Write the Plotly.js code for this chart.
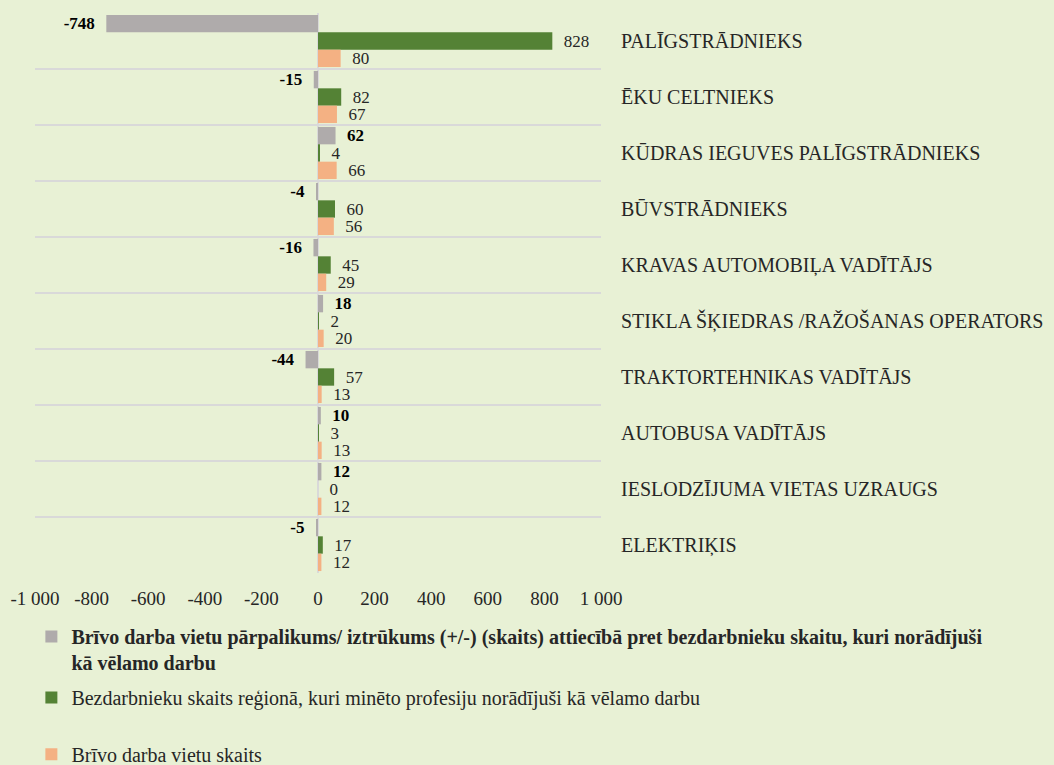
<!DOCTYPE html>
<html>
<head>
<meta charset="utf-8">
<script src="https://cdn.plot.ly/plotly-3.0.1.min.js"></script>
<style>html,body{margin:0;padding:0;background:#e8f1d5;}</style>
</head>
<body>
<div id="chart" style="width:1054px;height:765px;"></div>
<script>
const categories = [
  'PALĪGSTRĀDNIEKS',
  'ĒKU CELTNIEKS',
  'KŪDRAS IEGUVES PALĪGSTRĀDNIEKS',
  'BŪVSTRĀDNIEKS',
  'KRAVAS AUTOMOBIĻA VADĪTĀJS',
  'STIKLA ŠĶIEDRAS /RAŽOŠANAS OPERATORS',
  'TRAKTORTEHNIKAS VADĪTĀJS',
  'AUTOBUSA VADĪTĀJS',
  'IESLODZĪJUMA VIETAS UZRAUGS',
  'ELEKTRIĶIS'
];
const surplus = [-748, -15, 62, -4, -16, 18, -44, 10, 12, -5];
const unemployed = [828, 82, 4, 60, 45, 2, 57, 3, 0, 17];
const vacancies = [80, 67, 66, 56, 29, 20, 13, 13, 12, 12];

const seriesNames = [
  '<b>Brīvo darba vietu pārpalikums/ iztrūkums (+/-) (skaits) attiecībā pret bezdarbnieku skaitu, kuri norādījuši<br>kā vēlamo darbu</b>',
  'Bezdarbnieku skaits reģionā, kuri minēto profesiju norādījuši kā vēlamo darbu',
  'Brīvo darba vietu skaits'
];
const xTickVals = [-1000, -800, -600, -400, -200, 0, 200, 400, 600, 800, 1000];
const xTickText = ['-1 000', '-800', '-600', '-400', '-200', '0', '200', '400', '600', '800', '1 000'];

const pad = '\u00a0\u00a0';
function labels(arr) {
  return arr.map(v => v < 0 ? (String(v) + pad) : (pad + String(v)));
}
const FONT = 'Liberation Serif, Times New Roman, serif';

function barTrace(vals, name, color, bold, legendId) {
  return {
    type: 'bar',
    orientation: 'h',
    y: categories,
    x: vals,
    name: name,
    legend: legendId,
    marker: {color: color},
    text: labels(vals),
    textposition: 'outside',
    cliponaxis: false,
    constraintext: 'none',
    textfont: {family: FONT, size: 17, color: bold ? '#000000' : '#262626', weight: bold ? 'bold' : 'normal'},
    hoverinfo: 'x+y'
  };
}

const data = [
  barTrace(surplus, seriesNames[0], '#afabab', true, 'legend'),
  barTrace(unemployed, seriesNames[1], '#548235', false, 'legend2'),
  barTrace(vacancies, seriesNames[2], '#f4b183', false, 'legend3')
];

const legendBase = {
  xref: 'paper', yref: 'paper',
  xanchor: 'left', yanchor: 'top',
  bgcolor: 'rgba(0,0,0,0)',
  font: {family: FONT, size: 20, color: '#262626'},
  valign: 'top'
};

const layout = {
  width: 1054,
  height: 765,
  margin: {l: 35, r: 453, t: 13, b: 192, autoexpand: false},
  paper_bgcolor: '#e8f1d5',
  plot_bgcolor: '#e8f1d5',
  font: {family: FONT, size: 18, color: '#262626'},
  barmode: 'group',
  bargap: 0.07,
  bargroupgap: 0,
  showlegend: true,
  xaxis: {
    range: [-1000, 1000],
    tickvals: xTickVals,
    ticktext: xTickText,
    showgrid: false,
    zeroline: true,
    zerolinecolor: '#d9d9d9',
    zerolinewidth: 2,
    showline: false,
    ticks: '',
    automargin: false,
    ticklabelstandoff: 12,
    tickfont: {family: FONT, size: 19, color: '#262626'}
  },
  yaxis: {
    type: 'category',
    autorange: 'reversed',
    side: 'right',
    tickson: 'boundaries',
    showgrid: true,
    gridcolor: '#d9d9d9',
    gridwidth: 2,
    ticks: '',
    showline: false,
    zeroline: false,
    automargin: false,
    ticklabelstandoff: 19,
    tickfont: {family: FONT, size: 20, color: '#262626'}
  },
  legend: Object.assign({}, legendBase, {x: -0.0064, y: -0.0786}),
  legend2: Object.assign({}, legendBase, {x: -0.0064, y: -0.1875}),
  legend3: Object.assign({}, legendBase, {x: -0.0064, y: -0.289})
};

Plotly.newPlot('chart', data, layout, {displayModeBar: false, responsive: false});
</script>
</body>
</html>
